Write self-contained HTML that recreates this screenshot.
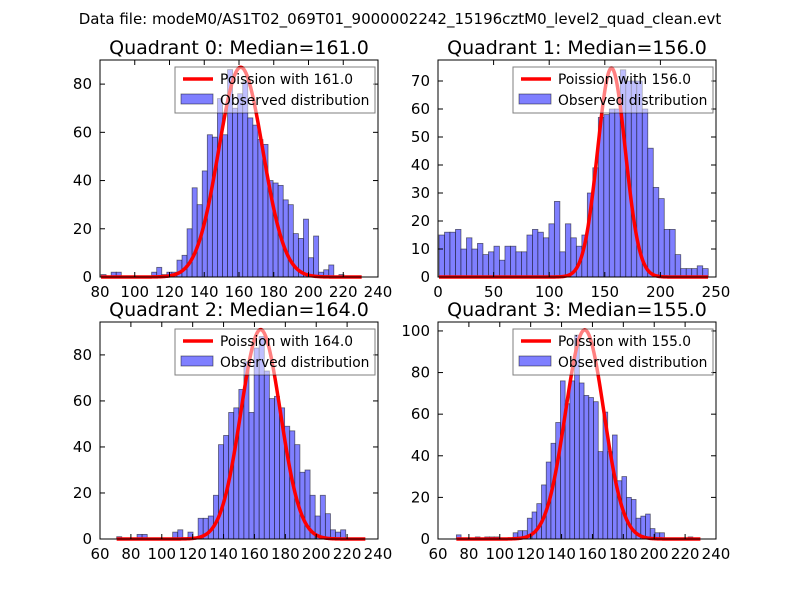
<!DOCTYPE html>
<html><head><meta charset="utf-8"><style>
body{margin:0;background:#fff;}
svg text{font-family:"DejaVu Sans","Liberation Sans",sans-serif;}
</style></head><body>
<svg id="chart" width="800" height="600" viewBox="0 0 800 600" xmlns="http://www.w3.org/2000/svg">
<rect width="800" height="600" fill="#fff"/>
<text x="400" y="24" font-size="15" text-anchor="middle">Data file: modeM0/AS1T02_069T01_9000002242_15196cztM0_level2_quad_clean.evt</text>
</svg>
<script>
const medians=[161.0,156.0,164.0,155.0];
const peakCounts=[87,74.6,91,100.5];
const binStarts=[80.6,0.9,70.8,71.9];
const binEnds=[220.4,243,219.1,225];
const curveEnds=[230.8,243,232,230];
const counts0=[1,0,2,2,0,0,0,0,0,0,2,4,1,2,2,7,9,20,37,30,44,59,58,74,59,86,70,76,81,66,63,57,55,40,39,38,32,30,18,16,24,8,17,2,3,5,0,1];
const counts1=[15,16,16,17,10,14,10,12,8,9,11,6,11,11,9,9,15,17,16,14,19,27,9,19,14,11,15,30,39,57,58,60,60,74,70,70,70,60,46,32,28,17,17,8,3,3,3,4,3];
const counts2=[1,0,0,0,2,2,0,0,0,0,0,3,4,0,3,0,9,9,10,19,41,45,55,57,65,77,55,83,88,73,61,62,57,49,47,41,29,30,19,10,19,11,4,3,4];
const counts3=[2,0,0,0,1,0,1,1,1,0,0,0,3,4,4,10,13,17,26,37,46,56,76,65,76,98,75,69,68,66,42,61,42,50,28,30,20,19,10,11,12,5,3,3,0,0,0,0,0,1];
const xTicks0=[80,100,120,140,160,180,200,220,240];
const xTicks1=[0,50,100,150,200,250];
const xTicks2=[60,80,100,120,140,160,180,200,220,240];
const xTicks3=[60,80,100,120,140,160,180,200,220,240];
const yTicks0=[0,20,40,60,80];
const yTicks1=[0,10,20,30,40,50,60,70];
const yTicks2=[0,20,40,60,80];
const yTicks3=[0,20,40,60,80,100];
const xMins=[80,0,60,60],xMaxs=[240,250,240,240],yMaxs=[90,77.5,94.3,104.3];

const NS="http://www.w3.org/2000/svg";
const svg=document.getElementById('chart');
function mk(tag,attrs,parent){const e=document.createElementNS(NS,tag);for(const k in attrs)e.setAttribute(k,attrs[k]);(parent||svg).appendChild(e);return e;}
const allCounts=[counts0,counts1,counts2,counts3];
const allX=[xTicks0,xTicks1,xTicks2,xTicks3];
const allY=[yTicks0,yTicks1,yTicks2,yTicks3];
const boxes=[[100,60],[438,60],[100,322],[438,322]];
const W=278,H=217;
for(let q=0;q<4;q++){
  const [L,T]=boxes[q];
  const g=mk('g',{});
  
  
  const xs=v=>L+(v-xMins[q])/(xMaxs[q]-xMins[q])*W;
  const ys=v=>T+H-v/yMaxs[q]*H;
  const c=allCounts[q];const n=c.length;const bw=(binEnds[q]-binStarts[q])/n;
  for(let i=0;i<n;i++){
    if(c[i]<=0)continue;
    const x0=xs(binStarts[q]+i*bw),x1=xs(binStarts[q]+(i+1)*bw);
    const r=mk('rect',{x:x0,y:ys(c[i]),width:x1-x0,height:ys(0)-ys(c[i]),fill:'#7f7fff',stroke:'rgba(0,0,0,0.55)','stroke-width':0.8},g);
    
    
  }
  let d='';const m=medians[q];
  for(let v=binStarts[q];v<=curveEnds[q];v+=0.5){
    const y=peakCounts[q]*Math.exp(-(v-m)*(v-m)/(2*m));
    d+=(d?'L':'M')+xs(v).toFixed(2)+','+ys(y).toFixed(2);
  }
  const p=mk('path',{d:d,fill:'none',stroke:'#ff0000','stroke-width':3.5},g);
  
  
  const f=mk('rect',{x:L,y:T,width:W,height:H,fill:'none',stroke:'#000','stroke-width':1},g);
  
  
  allX[q].forEach(t=>{const x=xs(t);
    mk('line',{x1:x,y1:T+H,x2:x,y2:T+H-5,stroke:'#000'},g);
    mk('line',{x1:x,y1:T,x2:x,y2:T+5,stroke:'#000'},g);
    const tx=mk('text',{x:x,y:T+H+20,'font-size':15,'text-anchor':'middle'},g);tx.textContent=t;
    
    
  });
  allY[q].forEach(t=>{const y=ys(t);
    mk('line',{x1:L,y1:y,x2:L+5,y2:y,stroke:'#000'},g);
    mk('line',{x1:L+W,y1:y,x2:L+W-5,y2:y,stroke:'#000'},g);
    const tx=mk('text',{x:L-8,y:y+5,'font-size':15,'text-anchor':'end'},g);tx.textContent=t;
    
    
  });
  const ti=mk('text',{x:L+W/2,y:T-6,'font-size':19,'text-anchor':'middle'},g);
  ti.textContent='Quadrant '+q+': Median='+medians[q].toFixed(1);
  
  
  const lg=mk('g',{},g);
  
  
  mk('rect',{x:L+75,y:T+7,width:200,height:46,fill:'rgba(255,255,255,0.5)',stroke:'rgba(0,0,0,0.5)','stroke-width':1},lg);
  mk('line',{x1:L+83,y1:T+19,x2:L+113,y2:T+19,stroke:'#ff0000','stroke-width':3.5},lg);
  const t1=mk('text',{x:L+120,y:T+24,'font-size':13.8},lg);t1.textContent='Poission with '+medians[q].toFixed(1);
  
  
  mk('rect',{x:L+81,y:T+34,width:32,height:10,fill:'#7f7fff',stroke:'rgba(0,0,0,0.55)','stroke-width':0.8},lg);
  const t2=mk('text',{x:L+120,y:T+45,'font-size':13.8},lg);t2.textContent='Observed distribution';
  
  
}
</script>
</body></html>
